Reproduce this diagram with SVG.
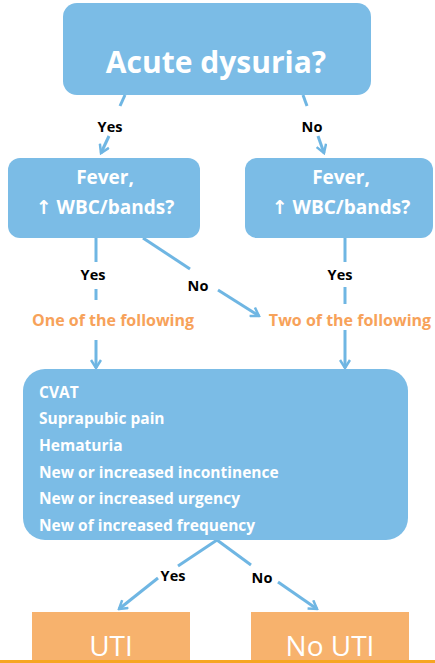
<svg xmlns="http://www.w3.org/2000/svg" width="435" height="663" viewBox="0 0 435 663">
<defs>
<marker id="arr" markerWidth="12" markerHeight="12" refX="10" refY="6" orient="auto" markerUnits="userSpaceOnUse">
<path d="M2,1 L10,6 L2,11" fill="none" stroke="#6fb6e3" stroke-width="2.5"/>
</marker>
</defs>
<style>
.box{fill:#7bbce6}
.out{fill:#f7b26d}
.lbl{font-family:"Open Sans","Liberation Sans",sans-serif;font-weight:700;fill:#000;font-size:14.5px;text-anchor:middle}
.org{font-family:"Open Sans","Liberation Sans",sans-serif;font-weight:700;fill:#f7a25a;font-size:16px;text-anchor:middle}
.wt{font-family:"Open Sans","Liberation Sans",sans-serif;fill:#fff;font-weight:700}
.up{font-family:"DejaVu Sans",sans-serif;font-weight:700}
.ln{stroke:#6fb6e3;stroke-width:3;fill:none}
.big{font-family:"Open Sans","Liberation Sans",sans-serif;font-size:28px;fill:#fff;text-anchor:middle}
</style>
<rect width="435" height="663" fill="#fff"/>
<g id="connectors">
<line class="ln" x1="125" y1="95" x2="120" y2="106"/>
<line class="ln" x1="109" y1="136" x2="101" y2="153" marker-end="url(#arr)"/>
<line class="ln" x1="303" y1="95" x2="307" y2="106"/>
<line class="ln" x1="318" y1="136" x2="324" y2="153" marker-end="url(#arr)"/>
<line class="ln" x1="96" y1="238" x2="96" y2="262"/>
<line class="ln" x1="96" y1="289" x2="96" y2="300"/>
<line class="ln" x1="96" y1="340" x2="96" y2="368" marker-end="url(#arr)"/>
<line class="ln" x1="143" y1="238" x2="190" y2="269"/>
<line class="ln" x1="218" y1="290" x2="259" y2="316" marker-end="url(#arr)"/>
<line class="ln" x1="345" y1="238" x2="345" y2="262"/>
<line class="ln" x1="345" y1="287" x2="345" y2="304"/>
<line class="ln" x1="345" y1="330" x2="345" y2="368" marker-end="url(#arr)"/>
<line class="ln" x1="217" y1="540" x2="178" y2="566"/>
<line class="ln" x1="158" y1="578" x2="119" y2="609" marker-end="url(#arr)"/>
<line class="ln" x1="217" y1="540" x2="251" y2="565"/>
<line class="ln" x1="278" y1="582" x2="317" y2="609" marker-end="url(#arr)"/>
<text class="lbl" x="110" y="132">Yes</text>
<text class="lbl" x="312" y="132">No</text>
<text class="lbl" x="93" y="280">Yes</text>
<text class="lbl" x="198" y="291">No</text>
<text class="lbl" x="340" y="280">Yes</text>
<text class="org" x="113" y="326">One of the following</text>
<text class="org" x="350" y="326">Two of the following</text>
<text class="lbl" x="173" y="581">Yes</text>
<text class="lbl" x="262" y="583">No</text>
</g>
<g id="n-dysuria">
<rect class="box" x="63" y="3" width="308" height="92" rx="14"/>
<text class="wt" x="216" y="73" font-size="30" font-weight="600" text-anchor="middle">Acute dysuria?</text>
</g>
<g id="n-fever-left">
<rect class="box" x="8" y="158" width="192" height="80" rx="12"/>
<text class="wt" x="105" y="184" font-size="19" text-anchor="middle">Fever,</text>
<text class="wt" x="105" y="214" font-size="19" text-anchor="middle"><tspan class="up">↑</tspan> WBC/bands?</text>
</g>
<g id="n-fever-right">
<rect class="box" x="245" y="158" width="188" height="80" rx="12"/>
<text class="wt" x="341" y="184" font-size="19" text-anchor="middle">Fever,</text>
<text class="wt" x="341" y="214" font-size="19" text-anchor="middle"><tspan class="up">↑</tspan> WBC/bands?</text>
</g>
<g id="n-criteria">
<rect class="box" x="23" y="369" width="385" height="171" rx="22"/>
<g class="wt" font-size="15.5">
<text x="39" y="398">CVAT</text>
<text x="39" y="424">Suprapubic pain</text>
<text x="39" y="451">Hematuria</text>
<text x="39" y="478">New or increased incontinence</text>
<text x="39" y="504">New or increased urgency</text>
<text x="39" y="531">New of increased frequency</text>
</g>
</g>
<g id="n-uti">
<rect class="out" x="32" y="612" width="158" height="51"/>
<text class="big" x="111" y="656">UTI</text>
</g>
<g id="n-nouti">
<rect class="out" x="251" y="612" width="158" height="51"/>
<text class="big" x="330" y="656">No UTI</text>
</g>
<rect x="0" y="660" width="435" height="3" fill="#f6a623"/>
</svg>
